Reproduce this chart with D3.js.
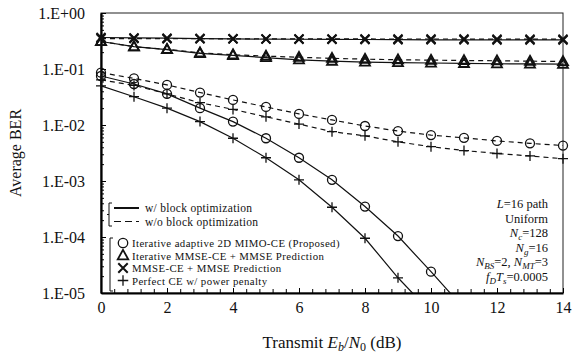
<!DOCTYPE html>
<html>
<head>
<meta charset="utf-8">
<script src="https://cdn.jsdelivr.net/npm/d3@7"></script>
<style>
  body { margin: 0; background: #fff; }
  svg { font-family: "Liberation Serif", "Times New Roman", serif; }
</style>
</head>
<body>
<svg id="chart" width="572" height="353"></svg>
<script>
// Données
const snr = [0, 1, 2, 3, 4, 5, 6, 7, 8, 9, 10, 11, 12, 13, 14];

const propWith = [0.075, 0.054, 0.036, 0.020, 0.0115, 0.0058, 0.0026, 0.00105, 0.00035, 0.000104, 0.000024, 0.0000053];
const propWithout = [0.086, 0.068, 0.052, 0.038, 0.028, 0.021, 0.0158, 0.0123, 0.0096, 0.0078, 0.0066, 0.0059, 0.0052, 0.0047, 0.0043];
const iterWith = [0.31, 0.25, 0.222, 0.19, 0.175, 0.16, 0.146, 0.138, 0.133, 0.13, 0.128, 0.126, 0.124, 0.123, 0.122];
const iterWithout = [0.31, 0.25, 0.224, 0.195, 0.18, 0.17, 0.162, 0.155, 0.15, 0.146, 0.144, 0.142, 0.14, 0.138, 0.136];
const mmseWith = [0.365, 0.36, 0.355, 0.35, 0.345, 0.342, 0.34, 0.338, 0.336, 0.334, 0.332, 0.331, 0.33, 0.33, 0.33];
const mmseWithout = [0.35, 0.35, 0.348, 0.347, 0.346, 0.345, 0.345, 0.344, 0.344, 0.343, 0.343, 0.343, 0.342, 0.342, 0.342];
const perfWith = [0.05, 0.032, 0.020, 0.0115, 0.0058, 0.0026, 0.00105, 0.00034, 0.000095, 0.0000187, 0.0000045];
const perfWithout = [0.064, 0.051, 0.036, 0.025, 0.019, 0.014, 0.0104, 0.0076, 0.0064, 0.005, 0.0041, 0.0035, 0.0031, 0.0028, 0.0025];

const yTicks = [1, 1e-1, 1e-2, 1e-3, 1e-4, 1e-5];
const yTickLabels = ['1.E+00', '1.E-01', '1.E-02', '1.E-03', '1.E-04', '1.E-05'];
const xTicks = [0, 2, 4, 6, 8, 10, 12, 14];

const legendMarkers = [
    { shape: 'circle', label: 'Iterative adaptive 2D MIMO-CE (Proposed)' },
    { shape: 'triangle', label: 'Iterative MMSE-CE + MMSE Prediction' },
    { shape: 'cross', label: 'MMSE-CE + MMSE Prediction' },
    { shape: 'plus', label: 'Perfect CE w/ power penalty' }
];

const series = [
    { values: iterWithout, shape: 'triangle', dashed: true },
    { values: iterWith, shape: 'triangle', dashed: false },
    { values: mmseWithout, shape: 'cross', dashed: true },
    { values: mmseWith, shape: 'cross', dashed: false },
    { values: propWithout, shape: 'circle', dashed: true },
    { values: propWith, shape: 'circle', dashed: false },
    { values: perfWithout, shape: 'plus', dashed: true },
    { values: perfWith, shape: 'plus', dashed: false }
];

const svg = d3.select('#chart');
const margin = { top: 13, right: 9, bottom: 60, left: 101 };
const width = +svg.attr('width');
const height = +svg.attr('height');
const plotRight = width - margin.right;
const plotBottom = height - margin.bottom;

const x = d3.scaleLinear().domain([0, 14]).range([margin.left, plotRight]);
const y = d3.scaleLog().domain([1e-5, 1]).range([plotBottom, margin.top]);

// Zone de découpe pour les courbes
svg.append('clipPath').attr('id', 'clip')
    .append('rect')
    .attr('x', margin.left)
    .attr('y', margin.top)
    .attr('width', plotRight - margin.left)
    .attr('height', plotBottom - margin.top);

// Cadre (haut et droite fins)
svg.append('rect')
    .attr('x', margin.left)
    .attr('y', margin.top)
    .attr('width', plotRight - margin.left)
    .attr('height', plotBottom - margin.top)
    .attr('fill', 'none')
    .attr('stroke', '#222')
    .attr('stroke-width', 1);

// Graduations mineures
const yMinor = [];
for (let e = -5; e < 0; e++) {
    for (let m = 2; m <= 9; m++) yMinor.push(m * Math.pow(10, e));
}
const xMinor = d3.range(0, 14.001, 0.4).map(v => +v.toFixed(1));

svg.append('g')
    .attr('transform', `translate(${margin.left},0)`)
    .call(d3.axisLeft(y).tickValues(yMinor).tickSize(-3).tickFormat(''))
    .call(g => g.select('.domain').remove());

svg.append('g')
    .attr('transform', `translate(0,${plotBottom})`)
    .call(d3.axisBottom(x).tickValues(xMinor).tickSize(-4).tickFormat(''))
    .call(g => g.select('.domain').remove());

// Axes principaux
svg.append('g')
    .attr('transform', `translate(${margin.left},0)`)
    .call(d3.axisLeft(y).tickValues(yTicks).tickSizeInner(-5).tickSizeOuter(0).tickPadding(16)
        .tickFormat((d, i) => yTickLabels[i]))
    .call(g => g.select('.domain').attr('stroke-width', 2.2))
    .call(g => g.selectAll('text').attr('font-size', 16).attr('fill', '#111')
        .attr('font-family', '"Liberation Serif", serif'));

svg.append('g')
    .attr('transform', `translate(0,${plotBottom})`)
    .call(d3.axisBottom(x).tickValues(xTicks).tickSizeInner(-5).tickSizeOuter(0).tickPadding(9)
        .tickFormat(d3.format('d')))
    .call(g => g.select('.domain').attr('stroke-width', 2.2))
    .call(g => g.selectAll('text').attr('font-size', 16).attr('fill', '#111')
        .attr('font-family', '"Liberation Serif", serif'));

// Dessin des marqueurs
function drawMarker(g, shape, cx, cy, s) {
    if (shape === 'circle') {
        g.append('circle').attr('cx', cx).attr('cy', cy).attr('r', s * 0.45)
            .attr('fill', 'none').attr('stroke', '#111').attr('stroke-width', 1.3);
    } else if (shape === 'triangle') {
        const h = s * 0.9;
        g.append('path')
            .attr('d', `M${cx},${cy - h * 0.6}L${cx + s * 0.5},${cy + h * 0.4}L${cx - s * 0.5},${cy + h * 0.4}Z`)
            .attr('fill', 'none').attr('stroke', '#111').attr('stroke-width', 1.8);
    } else if (shape === 'cross') {
        const r = s * 0.45;
        g.append('path')
            .attr('d', `M${cx - r},${cy - r}L${cx + r},${cy + r}M${cx - r},${cy + r}L${cx + r},${cy - r}`)
            .attr('fill', 'none').attr('stroke', '#111').attr('stroke-width', 2);
    } else {
        const r = s * 0.5;
        g.append('path')
            .attr('d', `M${cx - r},${cy}L${cx + r},${cy}M${cx},${cy - r}L${cx},${cy + r}`)
            .attr('fill', 'none').attr('stroke', '#111').attr('stroke-width', 1.3);
    }
}

const line = d3.line()
    .x((d, i) => x(snr[i]))
    .y(d => y(d));

const curves = svg.append('g').attr('clip-path', 'url(#clip)');

series.forEach(s => {
    curves.append('path')
        .datum(s.values)
        .attr('d', line)
        .attr('fill', 'none')
        .attr('stroke', '#111')
        .attr('stroke-width', 1.2)
        .attr('stroke-dasharray', s.dashed ? '5,4' : null);
});

const markers = svg.append('g');
series.forEach(s => {
    s.values.forEach((v, i) => {
        if (v < 1e-5) return;
        drawMarker(markers, s.shape, x(snr[i]), y(v), 10);
    });
});

// Légende des styles de ligne
const lineLegend = svg.append('g');
lineLegend.append('path')
    .attr('d', 'M112,203H109V226H112M109,214.5H107')
    .attr('fill', 'none').attr('stroke', '#111').attr('stroke-width', 1);
[{ label: 'w/ block optimization', dashed: false }, { label: 'w/o block optimization', dashed: true }]
    .forEach((d, i) => {
        const ly = 208 + i * 13.5;
        lineLegend.append('line')
            .attr('x1', 114).attr('x2', 139).attr('y1', ly).attr('y2', ly)
            .attr('stroke', '#111').attr('stroke-width', d.dashed ? 1.2 : 2)
            .attr('stroke-dasharray', d.dashed ? '7,4' : null);
        lineLegend.append('text')
            .attr('x', 145).attr('y', ly + 4)
            .attr('font-size', 11.5).attr('letter-spacing', 0.3).attr('fill', '#111')
            .text(d.label);
    });

// Légende des marqueurs
const markLegend = svg.append('g');
markLegend.append('path')
    .attr('d', 'M113,238H110V291H113')
    .attr('fill', 'none').attr('stroke', '#111').attr('stroke-width', 1);
legendMarkers.forEach((d, i) => {
    const ly = 243 + i * 12.5;
    drawMarker(markLegend, d.shape, 123, ly, 10.5);
    markLegend.append('text')
        .attr('x', 132).attr('y', ly + 4)
        .attr('font-size', 10.8).attr('letter-spacing', 0.4).attr('fill', '#111')
        .text(d.label);
});

// Paramètres de simulation
const notes = svg.append('g')
    .attr('font-size', 12.5)
    .attr('fill', '#111')
    .attr('text-anchor', 'end');

function note(yPos, parts) {
    const t = notes.append('text').attr('x', 548).attr('y', yPos);
    parts.forEach(p => {
        const span = t.append('tspan').text(p.t);
        if (p.i) span.attr('font-style', 'italic');
        if (p.sub) span.attr('dy', 3).attr('font-size', 9);
        if (p.up) span.attr('dy', -3);
    });
}

note(208, [{ t: 'L', i: true }, { t: '=16 path' }]);
note(222.5, [{ t: 'Uniform' }]);
note(237, [{ t: 'N', i: true }, { t: 'c', i: true, sub: true }, { t: '=128', up: true }]);
note(251.5, [{ t: 'N', i: true }, { t: 'g', i: true, sub: true }, { t: '=16', up: true }]);
note(266, [{ t: 'N', i: true }, { t: 'BS', i: true, sub: true }, { t: '=2, ', up: true }, { t: 'N', i: true },
    { t: 'MT', i: true, sub: true }, { t: '=3', up: true }]);
note(280.5, [{ t: 'f', i: true }, { t: 'D', i: true, sub: true }, { t: 'T', i: true, up: true },
    { t: 's', i: true, sub: true }, { t: '=0.0005', up: true }]);

// Titres des axes
const xTitle = svg.append('text')
    .attr('x', (margin.left + plotRight) / 2)
    .attr('y', 348)
    .attr('text-anchor', 'middle')
    .attr('font-size', 17)
    .attr('fill', '#111');
xTitle.append('tspan').text('Transmit ');
xTitle.append('tspan').attr('font-style', 'italic').text('E');
xTitle.append('tspan').attr('font-style', 'italic').attr('font-size', 12).attr('dy', 3).text('b');
xTitle.append('tspan').attr('dy', -3).text('/');
xTitle.append('tspan').attr('font-style', 'italic').text('N');
xTitle.append('tspan').attr('font-size', 12).attr('dy', 3).text('0');
xTitle.append('tspan').attr('dy', -3).text(' (dB)');

svg.append('text')
    .attr('transform', `translate(21,${(margin.top + plotBottom) / 2}) rotate(-90)`)
    .attr('text-anchor', 'middle')
    .attr('font-size', 16)
    .attr('fill', '#111')
    .text('Average BER');
</script>
</body>
</html>
